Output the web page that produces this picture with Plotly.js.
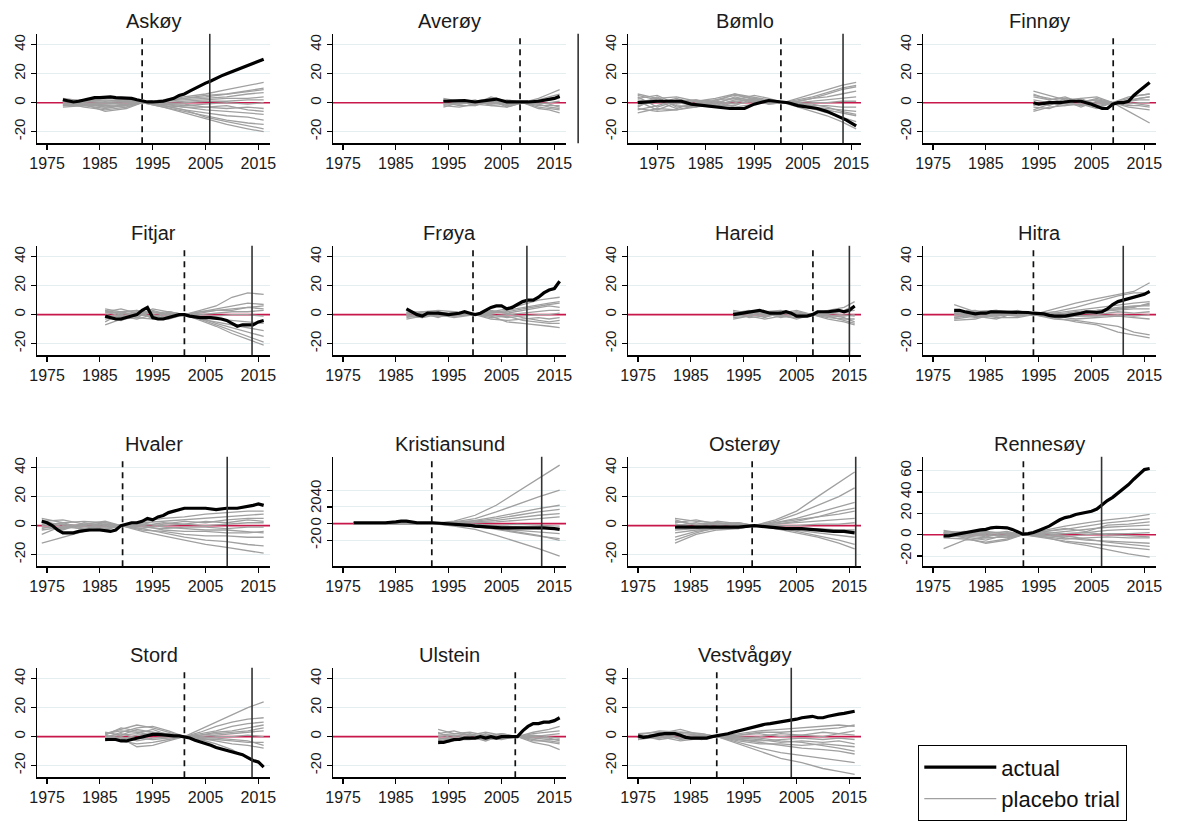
<!DOCTYPE html>
<html><head><meta charset="utf-8">
<script src="https://cdn.plot.ly/plotly-3.0.1.min.js"></script>
<style>html,body{margin:0;padding:0;background:#fff}</style>
</head><body>
<div id="chart" style="width:1177px;height:821px"></div>
<script>
// ---------------- DATA ----------------
const panelNames = ['Askøy','Averøy','Bømlo','Finnøy','Fitjar','Frøya','Hareid','Hitra','Hvaler','Kristiansund','Osterøy','Rennesøy','Stord','Ulstein','Vestvågøy'];
const xTickVals = [1975,1985,1995,2005,2015];
const legendLabels = ['actual','placebo trial'];

// treatment (dashed) and later (solid) event years per panel
const dashedYears = [1993,2008.5,2000.5,2009.1,2001,1999.6,2008.1,1994,1989.3,1991.8,1996.6,1992.1,2001,2007.6,1989.9];
const solidYears  = [2005.8,2019.5,2013.3,null,2013.8,2009.8,2015,2011,2009.1,2012.6,2016.2,2006.9,2013.8,null,2004];

// Askøy
const askoyYears = [1978,1979,1980,1981,1982,1983,1984,1985,1986,1987,1988,1989,1990,1991,1992,1993,1994,1995,1996,1997,1998,1999,2000,2001,2002,2003,2004,2005,2006,2007,2008,2009,2010,2011,2012,2013,2014,2015,2016];
const askoyActual = [2,1,0.5,1,2,3,3.5,3.5,4,4,3.5,3.5,3.5,3,2,1,0.5,0.5,0.5,1,2,3,5,6,8,10,11.5,13.5,15,17,18.5,20,21.5,22.5,24,25.5,27,29,30];
const askoyPlaceboYears = [1978,1982,1986,1990,1993,1997,2001,2005,2009,2013,2016];
const askoyPlacebo = [
 [3,1,0,1,0,2,4,6,9,12,14],[-2,-1,-3,-1,0,2,3,5,6,8,10],[1,2,1,2,0,1,2,3,4,6,7],
 [-3,-2,-4,-2,0,0,1,2,3,3,4],[2,0,-1,0,0,-1,0,1,1,2,2],[0,-3,-5,-3,0,-1,-2,-1,0,-1,0],
 [-1,1,2,1,0,-2,-3,-3,-4,-3,-4],[2,-1,-6,-4,0,-1,-3,-5,-6,-7,-8],[-2,-2,-2,-1,0,-2,-5,-7,-9,-10,-12],
 [1,0,-3,-2,0,-3,-6,-9,-12,-14,-15],[0,-1,-2,-3,0,-2,-5,-10,-13,-16,-18],[-1,1,0,1,0,-3,-7,-11,-15,-18,-20],
 [1,2,3,2,0,1,3,4,6,8,9],[-1,-2,-1,0,0,-1,-1,-3,-2,-5,-6]
];

// Averøy
const averoyYears = [1994,1996,1998,2000,2002,2004,2006,2008,2009,2010,2012,2014,2015,2016];
const averoyActual = [1,1.5,1.5,0.5,1.5,2.5,0.5,0.5,0,0.5,1,2,3,4.5];
const averoyPlaceboYears = [1994,1997,2000,2003,2006,2009,2012,2014,2016];
const averoyPlacebo = [
 [3,1,-1,4,1,0,3,6,9],[-2,-3,-1,-2,-3,0,2,4,6],[1,2,0,1,-1,0,1,2,3],[-1,0,2,-2,-1,0,-1,0,1],
 [2,-1,1,0,2,0,-2,-2,-2],[0,-2,-2,1,-2,0,-3,-4,-5],[-3,0,1,-1,0,0,-4,-5,-7],[1,1,-2,2,-3,0,0,-1,-3],
 [2,0,1,3,-1,0,2,3,4],[-1,-1,0,-1,1,0,-1,-3,-4]
];

// Bømlo
const bomloYears = [1971,1973,1975,1978,1980,1982,1985,1988,1990,1993,1995,1998,2000,2002,2004,2006,2008,2010,2012,2014,2016];
const bomloActual = [0,0.5,1,1,1,-1,-2,-3,-4,-4,-1,1.5,0.5,0,-2,-3,-4,-6,-9,-12,-16];
const bomloPlaceboYears = [1971,1975,1979,1983,1987,1991,1995,1998,2001,2004,2007,2010,2013,2016];
const bomloPlacebo = [
 [6,3,4,1,2,5,3,1,0,3,6,9,12,14],[-7,-4,-5,-2,0,3,2,0,0,2,4,7,10,12],[3,5,-1,1,3,6,4,2,0,1,3,4,6,8],
 [-4,-6,-5,-3,-1,1,2,1,0,0,1,2,3,4],[2,0,3,-1,-2,2,5,3,0,-1,0,0,1,1],[-2,1,-4,0,1,-1,1,0,0,-1,-2,-2,-3,-3],
 [5,2,0,-2,-3,0,3,1,0,-2,-3,-4,-5,-6],[-5,-2,2,1,-1,4,1,-1,0,-1,-3,-5,-7,-9],[0,3,-2,-3,2,3,0,2,0,-2,-4,-7,-10,-13],
 [4,-3,1,2,-2,-2,3,-1,0,-3,-6,-9,-13,-18],[-3,4,-3,-1,1,6,2,0,0,1,3,6,9,11],[1,-5,0,2,0,-3,-1,1,0,-1,-1,-3,-6,-8]
];

// Finnøy
const finnoyYears = [1994,1995,1997,1999,2001,2003,2005,2007,2008,2009,2010,2011,2012,2013,2014,2015,2016];
const finnoyActual = [0,-1,0,0,1,1,-1,-4,-4,-1,0,0,1,5,8,11,14];
const finnoyPlaceboYears = [1994,1997,2000,2003,2006,2009,2012,2014,2016];
const finnoyPlacebo = [
 [8,5,2,3,4,0,4,5,6],[-6,-3,-2,-1,-3,0,2,3,4],[4,2,3,1,2,0,1,2,2],[-3,-4,0,-2,0,0,-1,0,0],
 [2,0,-2,3,-2,0,-2,-2,-3],[-5,-1,1,-3,1,0,-3,-4,-5],[5,3,0,2,-1,0,-6,-10,-14],[0,-2,3,0,2,0,3,5,6],
 [-2,1,-1,-1,-4,0,0,-1,-2],[6,2,4,0,3,0,1,3,4]
];

// Fitjar
const fitjarYears = [1986,1987,1988,1989,1990,1991,1992,1993,1994,1995,1996,1997,1998,1999,2000,2001,2002,2004,2006,2008,2009,2010,2011,2012,2013,2014,2015,2016];
const fitjarActual = [-1,-2,-3,-3,-2,-1,0,3,5,-2,-3,-3,-2,-1,0,0,-1,-2,-2,-3,-4,-6,-8,-7,-7,-7,-5,-4];
const fitjarPlaceboYears = [1986,1989,1992,1995,1998,2001,2004,2007,2010,2013,2016];
const fitjarPlacebo = [
 [4,2,3,1,2,0,3,6,12,15,14],[-7,-3,-2,-3,-1,0,2,4,6,8,7],[2,4,1,2,0,0,1,3,4,5,6],
 [-3,-1,-3,0,-2,0,0,1,2,2,3],[3,0,2,-2,1,0,-1,-1,0,0,-1],[-2,-4,0,-1,-3,0,-2,-3,-4,-5,-6],
 [1,2,-2,3,0,0,-3,-5,-7,-9,-11],[-5,1,3,-3,2,0,-2,-6,-9,-12,-15],[0,-2,-1,2,-1,0,-3,-7,-11,-15,-19],
 [2,-1,1,-1,1,0,-4,-8,-13,-17,-21],[3,1,0,4,2,0,2,3,3,5,4]
];

// Frøya
const froyaYears = [1987,1988,1989,1990,1991,1993,1995,1997,1998,1999,2000,2001,2002,2003,2004,2005,2006,2007,2008,2009,2010,2011,2012,2013,2014,2015,2016];
const froyaActual = [4,2,0,-1,1,1,0,1,2,1,0,1,3,5,6,6,4,5,7,9,10,10,12,15,17,18,23];
const froyaPlaceboYears = [1987,1990,1993,1996,2000,2003,2006,2009,2012,2014,2016];
const froyaPlacebo = [
 [1,2,3,2,0,2,4,7,10,11,12],[-2,0,-1,1,0,1,3,5,7,8,9],[2,-1,1,-1,0,3,1,3,5,6,5],
 [-1,1,-2,2,0,-1,0,1,2,3,3],[0,-2,2,0,0,0,-2,-1,0,0,1],[3,1,0,-2,0,-3,-4,-3,-2,-3,-2],
 [-3,-1,1,1,0,-2,-1,-4,-5,-6,-6],[1,0,-1,-1,0,-1,-5,-6,-7,-8,-9],[0,2,1,0,0,2,1,-2,-4,-5,-4],
 [-1,-2,0,1,0,1,2,4,6,7,8]
];

// Hareid
const hareidYears = [1993,1995,1997,1998,1999,2000,2002,2003,2004,2005,2007,2008,2009,2011,2013,2014,2015,2016];
const hareidActual = [0,1,2,3,2,1,1,2,1,-1,-1,0,2,2,3,2,3,6];
const hareidPlaceboYears = [1993,1996,1999,2002,2005,2008,2011,2014,2016];
const hareidPlacebo = [
 [3,1,2,3,1,0,3,5,9],[-2,-1,-3,-1,-2,0,2,3,6],[1,2,0,1,3,0,1,2,3],[-1,0,1,-2,0,0,-1,-1,0],
 [2,-2,-1,0,-3,0,-2,-3,-3],[0,1,-2,2,-1,0,-3,-5,-7],[-3,-1,2,-1,1,0,0,-2,-5],[1,3,-1,0,2,0,1,0,-1],
 [2,0,1,-1,-2,0,-1,-4,-6]
];

// Hitra
const hitraYears = [1979,1980,1981,1982,1983,1984,1985,1986,1987,1988,1990,1992,1993,1994,1995,1996,1997,1998,2000,2001,2002,2003,2004,2005,2006,2007,2008,2009,2010,2011,2012,2013,2014,2015,2016];
const hitraActual = [3,3,2,1,0.5,1,1,2,2,1.5,1.5,2,1.5,1,1,0.5,-0.5,-1,-1,-0.5,0,1,2,1.5,1.5,2,4,7,9,10,11,12,13,14,16];
const hitraPlaceboYears = [1979,1983,1987,1991,1994,1998,2002,2006,2010,2013,2016];
const hitraPlacebo = [
 [7,2,3,1,0,4,8,11,14,16,22],[-3,-1,2,0,0,2,5,9,13,15,15],[2,3,-1,2,0,1,3,5,7,8,9],
 [-2,0,1,-1,0,0,2,3,5,6,6],[1,-2,0,3,0,-1,1,2,3,4,4],[3,1,-2,-2,0,0,-1,0,2,1,2],
 [-4,-3,1,1,0,-2,-1,-1,0,-1,0],[0,2,3,0,0,-1,-3,-2,-1,-2,-3],[-1,-1,-3,2,0,-3,-4,-6,-8,-12,-14],
 [2,0,0,-1,0,-2,-5,-7,-12,-14,-16],[-2,1,2,1,0,1,0,2,4,6,7],[1,-1,-1,0,0,-1,1,3,4,5,8]
];

// Hvaler
const hvalerYears = [1974,1975,1976,1977,1978,1979,1980,1981,1983,1985,1987,1988,1989,1990,1991,1992,1993,1994,1995,1996,1997,1998,1999,2000,2001,2003,2005,2007,2009,2011,2013,2014,2015,2016];
const hvalerActual = [3,2,0,-3,-5,-5,-5,-4,-3,-3,-4,-3,0,1,2,2,3,5,4,6,7,9,10,11,12,12,12,11,12,12,13,14,15,14];
const hvalerPlaceboYears = [1974,1978,1982,1986,1989,1993,1997,2001,2005,2009,2013,2016];
const hvalerPlacebo = [
 [5,2,3,2,0,3,5,6,8,9,10,10],[-12,-8,-4,-2,0,2,3,4,5,6,7,8],[3,4,1,3,0,-2,1,3,2,4,5,5],
 [-3,-1,-2,-1,0,1,0,1,0,1,2,2],[1,-3,2,0,0,-1,-2,-1,-1,-2,-1,-1],[-6,0,-1,1,0,0,-3,-4,-4,-5,-5,-4],
 [2,1,-3,-2,0,-3,-4,-6,-7,-7,-8,-8],[-1,-2,0,-3,0,-2,-5,-8,-10,-11,-13,-14],[0,2,-2,1,0,-4,-7,-10,-13,-15,-17,-19],
 [4,-1,1,-1,0,2,-1,-2,-3,-3,-4,-5],[-2,1,0,2,0,0,2,1,3,2,4,3]
];

// Kristiansund
const kristiansundYears = [1977,1980,1983,1985,1986,1987,1988,1989,1992,1995,1996,1998,1999,2000,2002,2005,2008,2011,2013,2015,2016];
const kristiansundActual = [1,1,1,2,3,3,2,1,1,0,-1,-1,-2,-3,-4,-5,-5,-5,-5,-6,-7];
const kristiansundPlaceboYears = [1977,1982,1987,1992,1996,2000,2004,2008,2012,2016];
const kristiansundPlacebo = [
 [1,0,1,0,3,10,22,38,55,70],[-1,1,0,0,2,6,14,23,32,40],[0,-1,1,0,1,4,8,13,18,22],
 [1,0,-1,0,2,3,6,10,14,17],[-1,1,0,0,1,2,4,7,10,12],[0,0,1,0,0,1,2,4,6,8],
 [1,-1,0,0,-1,-2,-3,-4,-6,-5],[-1,0,-1,0,-2,-4,-6,-8,-10,-12],[0,1,0,0,-1,-3,-7,-11,-15,-18],
 [1,0,0,0,-2,-3,-6,-10,-14,-20],[0,-1,1,0,-3,-7,-14,-22,-30,-39],[-1,0,0,0,0,-1,-2,-1,-2,-3]
];

// Osterøy
const osteroyYears = [1982,1985,1988,1991,1994,1997,2000,2003,2006,2009,2012,2014,2016];
const osteroyActual = [-1,-1,-1,-1,-1,0,-1,-2,-2,-3,-4,-4,-5];
const osteroyPlaceboYears = [1982,1986,1990,1994,1997,2001,2005,2009,2013,2016];
const osteroyPlacebo = [
 [5,3,2,1,0,4,10,20,30,37],[-12,-6,-3,-2,0,3,8,14,20,26],[2,4,1,2,0,2,5,9,13,16],
 [-8,-4,-2,0,0,1,3,6,8,10],[3,1,2,-1,0,1,2,3,4,5],[-3,-2,0,1,0,0,0,1,1,2],
 [0,2,-1,0,0,-1,-2,-2,-3,-3],[-5,-3,-2,-1,0,-2,-3,-5,-7,-8],[4,0,1,2,0,-1,-4,-7,-10,-13],
 [-10,-5,-1,-2,0,-2,-5,-8,-12,-16],[1,-1,3,1,0,2,4,6,10,12]
];

// Rennesøy
const rennesoyYears = [1977,1978,1979,1980,1981,1982,1983,1984,1985,1986,1987,1988,1989,1990,1991,1992,1993,1994,1995,1996,1997,1998,1999,2000,2001,2002,2003,2004,2005,2006,2007,2008,2009,2010,2011,2012,2013,2014,2015,2016];
const rennesoyActual = [-1,-1,0,1,2,3,4,4.5,5,6.5,7,7,6.5,5,3,0.5,1,2,4,6,8,11,14,16,17,19,20,21,22,24,28,32,35,39,43,47,52,57,61,62];
const rennesoyPlaceboYears = [1977,1981,1985,1989,1992,1996,2000,2004,2008,2012,2016];
const rennesoyPlacebo = [
 [3,2,3,1,0,4,8,11,14,16,19],[-13,-5,-3,-2,0,3,5,8,11,13,15],[4,1,-2,2,0,1,3,5,7,8,9],
 [-3,-4,-7,-4,0,2,1,2,4,5,5],[1,3,0,-1,0,-1,-2,0,1,1,2],[-1,-2,-5,0,0,-2,-4,-3,-2,-3,-3],
 [2,0,1,3,0,0,-3,-5,-6,-7,-8],[0,-1,-3,-2,0,-3,-6,-8,-10,-12,-14],[-2,1,2,1,0,-2,-7,-10,-14,-18,-21],
 [1,-3,-8,-5,0,1,-1,-4,-7,-9,-11],[0,2,-1,0,0,3,6,3,9,10,12],[2,-1,1,-3,0,-1,1,2,0,-1,-2]
];

// Stord
const stordYears = [1986,1987,1988,1989,1990,1991,1992,1993,1994,1995,1996,1997,1998,1999,2000,2001,2002,2003,2004,2005,2006,2007,2008,2009,2010,2011,2012,2013,2014,2015,2016];
const stordActual = [-2,-2,-2,-3,-3,-2,-1,0,1,1.5,1.5,1,1,0.5,0.5,0,-1,-2.5,-3.5,-4.5,-6,-7.5,-8.5,-9,-10,-11,-12.5,-14.5,-16.5,-17.5,-21];
const stordPlaceboYears = [1986,1989,1992,1995,1998,2001,2004,2007,2010,2013,2016];
const stordPlacebo = [
 [2,5,8,6,3,0,5,10,15,20,24],[-1,3,6,7,4,0,3,7,10,12,13],[1,6,4,3,2,0,2,4,7,9,10],
 [3,1,2,5,1,0,1,3,4,6,8],[0,-2,1,2,2,0,0,1,2,3,4],[-2,0,-3,-1,0,0,-1,0,0,1,0],
 [1,-3,-5,-4,-2,0,-2,-2,-3,-4,-4],[-3,-1,-7,-6,-3,0,-1,-3,-5,-6,-8],[0,2,-1,-2,-1,0,-2,-5,-9,-15,-20],
 [2,4,3,1,0,0,1,2,3,4,6],[-1,1,5,3,1,0,-1,-1,-2,-3,-6]
];

// Ulstein
const ulsteinYears = [1993,1994,1995,1996,1997,1998,1999,2000,2001,2002,2003,2004,2005,2006,2007,2008,2009,2010,2011,2012,2013,2014,2015,2016];
const ulsteinActual = [-4,-4,-3,-2,-2,-1,-1,-1,0,-1,0,-1,0,0,0,0,4,7,9,9,10,10,11,13];
const ulsteinPlaceboYears = [1993,1996,1999,2002,2005,2008,2011,2014,2016];
const ulsteinPlacebo = [
 [5,2,1,3,1,0,3,5,7],[-5,-3,-1,-2,-1,0,2,3,4],[2,4,1,0,2,0,0,1,2],[-2,0,2,-1,-2,0,-1,-2,-2],
 [3,-2,-2,1,0,0,-2,-4,-5],[0,1,-1,2,-1,0,-4,-6,-9],[-3,-1,0,-3,1,0,1,0,-1],[1,2,3,1,0,0,-3,-3,-4],
 [-1,-2,1,0,2,0,0,-1,-3]
];

// Vestvågøy
const vestvagoyYears = [1975,1976,1977,1978,1979,1980,1981,1982,1983,1984,1985,1986,1987,1988,1989,1990,1991,1992,1993,1994,1995,1996,1997,1998,1999,2000,2001,2002,2003,2004,2005,2006,2007,2008,2009,2010,2011,2012,2013,2014,2015,2016];
const vestvagoyActual = [0.5,-0.5,0,1,1.5,2,2,2,1,-0.5,-1,-1,-1,-1,0,0.5,1,2,3,4,5,6,7,8,8.5,9,9.5,10,11,11.5,12,13,13.5,14,13,13,14,15,15.5,16,17,17.5];
const vestvagoyPlaceboYears = [1975,1979,1983,1987,1990,1994,1998,2002,2006,2010,2013,2016];
const vestvagoyPlacebo = [
 [1,4,3,2,0,2,4,5,6,7,8,7],[-2,2,5,1,0,1,3,3,4,5,6,8],[0,-1,1,-2,0,-1,0,2,1,3,2,4],
 [2,3,-2,0,0,-2,-3,-2,-1,-2,-1,-2],[-1,0,-3,-1,0,-3,-5,-5,-6,-5,-6,-7],[0,1,2,1,0,-4,-8,-11,-13,-15,-17,-18],
 [1,-2,0,1,0,-2,-4,-6,-8,-9,-10,-12],[-1,1,-1,0,0,-5,-10,-15,-18,-22,-24,-26],[0,2,1,-1,0,0,-1,-3,-4,-6,-8,-10],
 [1,-1,3,2,0,1,2,0,1,0,2,1],[-2,0,-1,1,0,-1,-2,-4,-3,-4,-3,-5]
];

// ---------------- ASSEMBLY ----------------
const actualYearsList = [askoyYears,averoyYears,bomloYears,finnoyYears,fitjarYears,froyaYears,hareidYears,hitraYears,hvalerYears,kristiansundYears,osteroyYears,rennesoyYears,stordYears,ulsteinYears,vestvagoyYears];
const actualList = [askoyActual,averoyActual,bomloActual,finnoyActual,fitjarActual,froyaActual,hareidActual,hitraActual,hvalerActual,kristiansundActual,osteroyActual,rennesoyActual,stordActual,ulsteinActual,vestvagoyActual];
const placeboYearsList = [askoyPlaceboYears,averoyPlaceboYears,bomloPlaceboYears,finnoyPlaceboYears,fitjarPlaceboYears,froyaPlaceboYears,hareidPlaceboYears,hitraPlaceboYears,hvalerPlaceboYears,kristiansundPlaceboYears,osteroyPlaceboYears,rennesoyPlaceboYears,stordPlaceboYears,ulsteinPlaceboYears,vestvagoyPlaceboYears];
const placeboList = [askoyPlacebo,averoyPlacebo,bomloPlacebo,finnoyPlacebo,fitjarPlacebo,froyaPlacebo,hareidPlacebo,hitraPlacebo,hvalerPlacebo,kristiansundPlacebo,osteroyPlacebo,rennesoyPlacebo,stordPlacebo,ulsteinPlacebo,vestvagoyPlacebo];

const W = 1177, H = 821;
const colLeft = [37,333,628,923], plotW = 233;
const rowTop = [34,247,459,671], plotH = 110;
const stdX = [1973.1,2017.2], stdY = [-28,47.5];
const xRanges = panelNames.map((n,i)=> i===2 ? [1969,2017] : stdX);
const yRanges = panelNames.map((n,i)=> i===9 ? [-51,80] : (i===11 ? [-29.5,73] : stdY));
const yTicks = panelNames.map((n,i)=> i===11 ? [-20,0,20,40,60] : [-20,0,20,40]);
const yTickText = panelNames.map((n,i)=> yTicks[i].map(v=> v<0 ? '-'+Math.abs(v) : String(v)));

const FONT = 'Arial, "Liberation Sans", sans-serif';
const traces = [], shapes = [], annotations = [];
const layout = {
  width: W, height: H, margin:{l:0,r:0,t:0,b:0},
  paper_bgcolor:'#fff', plot_bgcolor:'#fff',
  font:{family:FONT, color:'#1a1a1a'},
  showlegend:true,
  legend:{x:918/W, y:1-749/H, xanchor:'left', yanchor:'top', bordercolor:'#000', borderwidth:1.3,
          bgcolor:'#fff', font:{size:22, family:FONT, color:'#111'}, itemwidth:72, traceorder:'normal',
          tracegroupgap:3},
};

panelNames.forEach((name,i)=>{
  const r = Math.floor(i/4), c = i%4;
  const sfx = i===0 ? '' : String(i+1);
  const xa = 'x'+sfx, ya = 'y'+sfx;
  const x0 = colLeft[c]/W, x1 = (colLeft[c]+plotW)/W;
  const y1 = 1 - rowTop[r]/H, y0 = 1 - (rowTop[r]+plotH)/H;
  layout['xaxis'+sfx] = {domain:[x0,x1], anchor:ya, range:xRanges[i], tickvals:xTickVals,
    showline:true, linecolor:'#000', linewidth:1.4, ticks:'outside', ticklen:5, tickwidth:1.2, tickcolor:'#000',
    showgrid:false, zeroline:false, tickfont:{size:16, family:FONT, color:'#1a1a1a'}, fixedrange:true};
  layout['yaxis'+sfx] = {domain:[y0,y1], anchor:xa, range:yRanges[i], tickvals:yTicks[i], ticktext:yTickText[i],
    tickangle:-90, showline:true, linecolor:'#000', linewidth:1.4, ticks:'outside', ticklen:5, tickwidth:1.2, tickcolor:'#000',
    showgrid:true, gridcolor:'#e4eef1', gridwidth:1, zeroline:false, tickfont:{size:15, family:FONT, color:'#1a1a1a'}, fixedrange:true};

  // zero reference line (drawn first, under the placebo lines)
  traces.push({type:'scatter', mode:'lines', x:xRanges[i], y:[0,0], xaxis:xa, yaxis:ya,
    line:{color:'#c8174a', width:1.6}, showlegend:false, hoverinfo:'skip'});

  placeboList[i].forEach((vals,k)=>{
    traces.push({type:'scatter', mode:'lines', x:placeboYearsList[i], y:vals, xaxis:xa, yaxis:ya,
      line:{color:'#a0a0a0', width:1.3}, name:legendLabels[1], legendgroup:'p', legendrank:2,
      showlegend: (i===0 && k===0)});
  });
  traces.push({type:'scatter', mode:'lines', x:actualYearsList[i], y:actualList[i], xaxis:xa, yaxis:ya,
    line:{color:'#000', width:3.2}, name:legendLabels[0], legendgroup:'a', legendrank:1, showlegend: i===0});

  const toDom = yr => (yr - xRanges[i][0])/(xRanges[i][1]-xRanges[i][0]);
  shapes.push({type:'line', xref:xa+' domain', yref:ya+' domain', x0:toDom(dashedYears[i]), x1:toDom(dashedYears[i]),
    y0:0, y1:1, line:{color:'#111', width:1.7, dash:'6px,5px'}, layer:'above'});
  if (solidYears[i] !== null) {
    shapes.push({type:'line', xref:xa+' domain', yref:ya+' domain', x0:toDom(solidYears[i]), x1:toDom(solidYears[i]),
      y0:0, y1:1, line:{color:'#333', width:1.6}, layer:'above'});
  }
  annotations.push({text:name, xref:xa+' domain', yref:ya+' domain', x:0.5, y:1, xanchor:'center', yanchor:'bottom',
    yshift:0, showarrow:false, font:{size:20, family:FONT, color:'#1a1a1a'}});
});
layout.shapes = shapes;
layout.annotations = annotations;

Plotly.newPlot('chart', traces, layout, {displayModeBar:false, staticPlot:true});
</script>
</body></html>
